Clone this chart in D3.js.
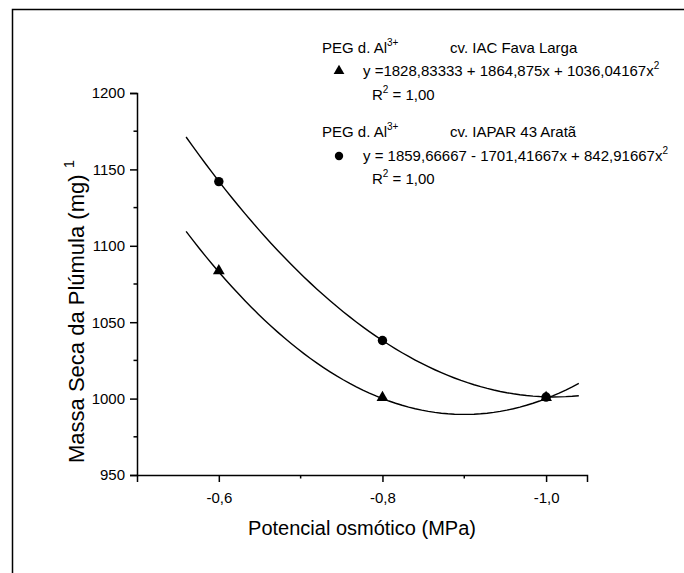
<!DOCTYPE html>
<html>
<head>
<meta charset="utf-8">
<script src="https://cdn.jsdelivr.net/npm/d3@7"></script>
<style>
  body { margin: 0; background: #fff; }
  text { font-family: Arial, "Liberation Sans", sans-serif; fill: #000; }
</style>
</head>
<body>
<div id="chart"></div>
<script>
// data
const potentials = [-0.6, -0.8, -1.0];
const favaLarga = [1083, 1000, 1000];   // triangles, cv. IAC Fava Larga
const iaparArata = [1142, 1038, 1001];  // circles, cv. IAPAR 43 Aratã
// regression coefficients printed in the legend (a + b*x + c*x^2, x = potential)
const fitFava = [1828.83333, 1864.875, 1036.04167];
const fitIapar = [1859.66667, 1701.41667, 842.91667];
const fitRange = [-0.56, -1.04];
const yTicks = [950, 1000, 1050, 1100, 1150, 1200];
const yMinor = [975, 1025, 1075, 1125, 1175];
const xTicks = [-0.6, -0.8, -1.0];
const xTickLabels = ["-0,6", "-0,8", "-1,0"];
const xMinor = [-0.7, -0.9];

const W = 684, H = 573;
const margin = {top: 93, right: 97, bottom: 98, left: 137},
    width = W - margin.left - margin.right,
    height = H - margin.top - margin.bottom;

const svgRoot = d3.select("#chart").append("svg")
  .attr("width", W)
  .attr("height", H);

// outer frame (runs off the right/bottom edge in the original)
svgRoot.append("rect")
  .attr("x", 12.5).attr("y", 9.5)
  .attr("width", 720).attr("height", 620)
  .attr("fill", "none")
  .attr("stroke", "#000")
  .attr("stroke-width", 1.5);

const svg = svgRoot.append("g")
  .attr("transform", `translate(${margin.left},${margin.top})`);

const x = d3.scaleLinear().domain([-0.5, -1.05]).range([0, width]);
const y = d3.scaleLinear().domain([950, 1200]).range([height, 0]);

// X axis
const xAxis = svg.append("g")
  .attr("transform", `translate(0,${height})`)
  .call(d3.axisBottom(x).tickValues(xTicks).tickSizeOuter(0).tickSize(7)
    .tickFormat((d, i) => xTickLabels[i]));
xAxis.append("g").selectAll("line")
  .data(xMinor).enter().append("line")
  .attr("x1", d => x(d)).attr("x2", d => x(d))
  .attr("y1", 0).attr("y2", 3.5)
  .attr("stroke", "#000").attr("stroke-width", 1.5);
xAxis.selectAll("text").style("font-size", "15px").attr("dy", "1.2em");

// Y axis
const yAxis = svg.append("g")
  .call(d3.axisLeft(y).tickValues(yTicks).tickSizeOuter(0).tickSize(7)
    .tickFormat(d3.format("d")));
yAxis.append("g").selectAll("line")
  .data(yMinor).enter().append("line")
  .attr("y1", d => y(d)).attr("y2", d => y(d))
  .attr("x1", 0).attr("x2", -3.5)
  .attr("stroke", "#000").attr("stroke-width", 1.5);
yAxis.selectAll("text").style("font-size", "15px").attr("x", -12);

svg.selectAll(".domain, .tick line").attr("stroke", "#000").attr("stroke-width", 1.5);
svg.selectAll(".tick text").attr("fill", "#000").style("font-family", "Arial, 'Liberation Sans', sans-serif");

// fitted curves
function fitPoints(c) {
  const pts = [];
  const n = 60;
  for (let i = 0; i <= n; i++) {
    const p = fitRange[0] + (fitRange[1] - fitRange[0]) * i / n;
    pts.push([p, c[0] + c[1] * p + c[2] * p * p]);
  }
  return pts;
}
const line = d3.line().x(d => x(d[0])).y(d => y(d[1]));
[fitFava, fitIapar].forEach(c => {
  svg.append("path")
    .attr("d", line(fitPoints(c)))
    .attr("fill", "none")
    .attr("stroke", "#000")
    .attr("stroke-width", 1.4);
});

// points
const tri = d3.symbol().type(d3.symbolTriangle).size(60);
svg.append("g").selectAll("path")
  .data(potentials.map((p, i) => [p, favaLarga[i]]))
  .enter().append("path")
  .attr("d", tri)
  .attr("transform", d => `translate(${x(d[0])},${y(d[1]) - 1})`)
  .attr("fill", "#000");
svg.append("g").selectAll("circle")
  .data(potentials.map((p, i) => [p, iaparArata[i]]))
  .enter().append("circle")
  .attr("cx", d => x(d[0]))
  .attr("cy", d => y(d[1]))
  .attr("r", 4.7)
  .attr("fill", "#000");

// legend
const leg = svgRoot.append("g").style("font-size", "15px");
function pegLine(yy, cultivar) {
  const t = leg.append("text").attr("x", 322).attr("y", yy);
  t.append("tspan").text("PEG d. Al");
  t.append("tspan").text("3+").style("font-size", "10px").attr("dy", -7);
  leg.append("text").attr("x", 450).attr("y", yy).text(cultivar);
}
function eqLine(yy, str) {
  const t = leg.append("text").attr("x", 363).attr("y", yy);
  t.append("tspan").text(str);
  t.append("tspan").text("2").style("font-size", "10px").attr("dy", -7);
}
function r2Line(yy) {
  const t = leg.append("text").attr("x", 372).attr("y", yy);
  t.append("tspan").text("R");
  t.append("tspan").text("2").style("font-size", "10px").attr("dy", -7);
  t.append("tspan").text(" = 1,00").attr("dy", 7);
}
pegLine(53, "cv. IAC Fava Larga");
eqLine(76, "y =1828,83333 + 1864,875x + 1036,04167x");
r2Line(100);
pegLine(137, "cv. IAPAR 43 Aratã");
eqLine(161, "y = 1859,66667 - 1701,41667x + 842,91667x");
r2Line(184);
leg.append("path")
  .attr("d", d3.symbol().type(d3.symbolTriangle).size(50))
  .attr("transform", "translate(339,71)");
leg.append("circle").attr("cx", 339).attr("cy", 156).attr("r", 4.2);

// axis titles
svgRoot.append("text")
  .attr("x", margin.left + width / 2)
  .attr("y", 535)
  .attr("text-anchor", "middle")
  .style("font-size", "20px")
  .text("Potencial osmótico (MPa)");

const yt = svgRoot.append("text")
  .attr("transform", "translate(84,463) rotate(-90)")
  .style("font-size", "22px");
yt.append("tspan").text("Massa Seca da Plúmula (mg) ");
yt.append("tspan").text("1").style("font-size", "15px").attr("dy", -10);
</script>
</body>
</html>
